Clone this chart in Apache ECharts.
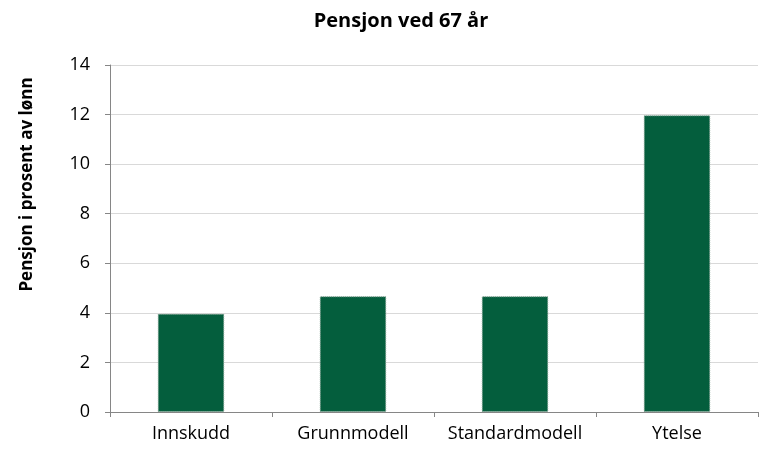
<!DOCTYPE html>
<html lang="no">
<head>
    <meta charset="UTF-8">
    <title>Pensjon ved 67 år</title>
    <script src="https://cdn.jsdelivr.net/npm/echarts@6/dist/echarts.min.js"></script>
    <style>
        html, body { margin: 0; padding: 0; background: #fff; }
        #chart { width: 763px; height: 449px; }
    </style>
</head>
<body>
    <div id="chart"></div>
    <script>
        // data
        var categories = ['Innskudd', 'Grunnmodell', 'Standardmodell', 'Ytelse'];
        var pensjon = [3.96, 4.67, 4.67, 11.97];
        var yTicks = { min: 0, max: 14, step: 2 };

        var font = '"Open Sans", "Noto Sans", sans-serif';
        var myChart = echarts.init(document.getElementById('chart'));
        var option = {
            animation: false,
            title: {
                text: 'Pensjon ved 67 år',
                left: 396,
                textAlign: 'center',
                top: 6,
                textStyle: { fontFamily: font, fontSize: 20, fontWeight: 'bold', color: '#000' }
            },
            grid: { left: 110, right: 5, top: 65, bottom: 37 },
            xAxis: {
                type: 'category',
                data: categories,
                axisLine: { lineStyle: { color: '#868686', width: 1 } },
                axisTick: { show: true, interval: 0, length: 5, lineStyle: { color: '#868686' } },
                axisLabel: { interval: 0, hideOverlap: false, fontFamily: font, fontSize: 18, color: '#000', margin: 13 }
            },
            yAxis: {
                type: 'value',
                min: yTicks.min,
                max: yTicks.max,
                interval: yTicks.step,
                name: 'Pensjon i prosent av lønn',
                nameLocation: 'middle',
                nameGap: 74,
                // title sits higher than the middle of the axis in the original
                nameTextStyle: {
                    fontFamily: font, fontSize: 17, fontWeight: 'bold', color: '#000',
                    padding: [0, 0, 0, 108]
                },
                axisLine: { show: true, lineStyle: { color: '#868686', width: 1 } },
                axisTick: { show: true, length: 5, lineStyle: { color: '#868686' } },
                axisLabel: { fontFamily: font, fontSize: 18, color: '#000', margin: 20 },
                splitLine: { lineStyle: { color: '#d9d9d9', width: 1 } }
            },
            series: [{
                type: 'bar',
                data: pensjon,
                barWidth: '41%',
                itemStyle: {
                    color: '#045e3d',
                    borderColor: '#7a9a8a',
                    borderWidth: 1,
                    borderType: 'dotted'
                }
            }]
        };
        myChart.setOption(option);
    </script>
</body>
</html>
